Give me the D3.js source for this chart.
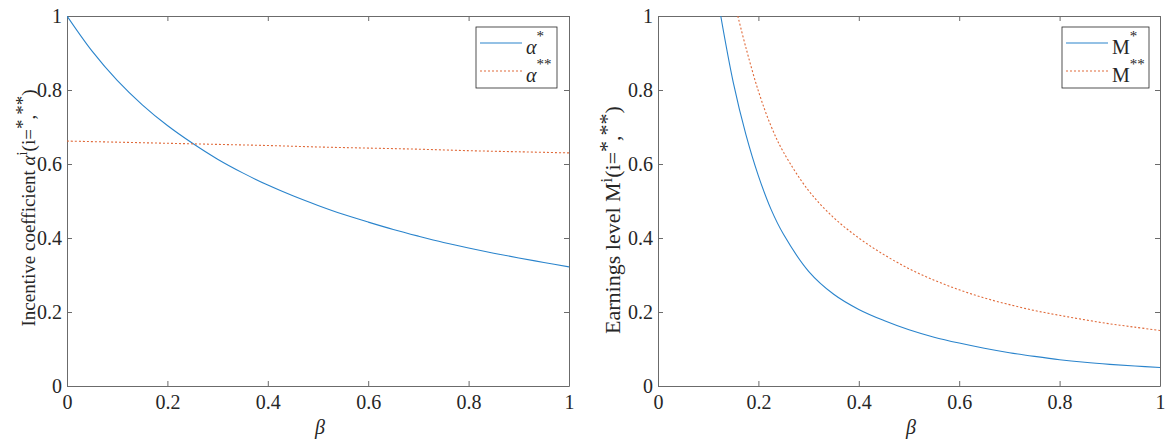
<!DOCTYPE html>
<html>
<head>
<meta charset="utf-8">
<script src="https://cdn.jsdelivr.net/npm/d3@7"></script>
<style>
  body { margin: 0; background: #fff; }
  svg { display: block; font-family: "Liberation Serif", "Times New Roman", serif; }
</style>
</head>
<body>
<div id="chart"></div>
<script>
// beta grid and values
const betaA = [0, 0.05, 0.1, 0.15, 0.2, 0.25, 0.3, 0.35, 0.4, 0.45, 0.5,
  0.55, 0.6, 0.65, 0.7, 0.75, 0.8, 0.85, 0.9, 0.95, 1];
const alphaStar = [1.000, 0.905, 0.826, 0.760, 0.704, 0.656, 0.613, 0.576, 0.543, 0.514, 0.488,
  0.464, 0.443, 0.423, 0.405, 0.388, 0.373, 0.359, 0.346, 0.334, 0.322];
const betaA2 = [0, 0.1, 0.2, 0.3, 0.4, 0.5, 0.6, 0.7, 0.8, 0.9, 1];
const alphaStar2 = [0.662, 0.659, 0.656, 0.653, 0.650, 0.646, 0.643, 0.640, 0.636, 0.633, 0.630];

const betaM = [0.125, 0.15, 0.175, 0.2, 0.225, 0.25, 0.3, 0.35, 0.4, 0.45, 0.5,
  0.55, 0.6, 0.65, 0.7, 0.75, 0.8, 0.85, 0.9, 0.95, 1];
const mStar = [1.000, 0.820, 0.680, 0.568, 0.478, 0.410, 0.310, 0.248, 0.207, 0.177, 0.152,
  0.132, 0.116, 0.102, 0.090, 0.080, 0.071, 0.064, 0.0585, 0.054, 0.050];
const betaM2 = [0.159, 0.175, 0.2, 0.225, 0.25, 0.3, 0.35, 0.4, 0.45, 0.5,
  0.55, 0.6, 0.65, 0.7, 0.75, 0.8, 0.85, 0.9, 0.95, 1];
const mStar2 = [1.000, 0.915, 0.797, 0.703, 0.632, 0.528, 0.455, 0.400, 0.355, 0.317,
  0.286, 0.260, 0.238, 0.220, 0.204, 0.191, 0.179, 0.168, 0.159, 0.150];

const ticks = [0, 0.2, 0.4, 0.6, 0.8, 1];
const blue = "#2a84cc";
const orange = "#e06a3a";
const axisColour = "#6b6b6b";
const serif = "'Liberation Serif', 'Times New Roman', serif";

const svg = d3.select("#chart")
  .append("svg")
  .attr("width", 1170)
  .attr("height", 442);

function panel(opts) {
  const x = d3.scaleLinear().domain([0, 1]).range([opts.left, opts.right]);
  const y = d3.scaleLinear().domain([0, 1]).range([386, 16]);
  const g = svg.append("g");

  const clipId = "clip" + opts.id;
  svg.append("clipPath").attr("id", clipId)
    .append("rect")
    .attr("x", opts.left).attr("y", 16)
    .attr("width", opts.right - opts.left).attr("height", 370);

  const fmt = d => (d === 0 || d === 1) ? String(d) : d.toFixed(1);

  g.append("g").attr("transform", "translate(0,386)")
    .call(d3.axisBottom(x).tickValues(ticks).tickFormat(fmt).tickSize(-5).tickSizeOuter(0).tickPadding(9));
  g.append("g").attr("transform", "translate(0,16)")
    .call(d3.axisTop(x).tickValues(ticks).tickFormat("").tickSize(-5).tickSizeOuter(0));
  g.append("g").attr("transform", `translate(${opts.left},0)`)
    .call(d3.axisLeft(y).tickValues(ticks).tickFormat(fmt).tickSize(-5).tickSizeOuter(0).tickPadding(5));
  g.append("g").attr("transform", `translate(${opts.right},0)`)
    .call(d3.axisRight(y).tickValues(ticks).tickFormat("").tickSize(-5).tickSizeOuter(0));
  g.selectAll(".domain, .tick line").attr("stroke", axisColour);
  g.selectAll(".tick text")
    .attr("font-family", serif)
    .attr("font-size", 20)
    .attr("fill", "#262626");

  const line = d3.line()
    .x(d => x(d[0]))
    .y(d => y(d[1]))
    .curve(d3.curveCatmullRom.alpha(0.5));

  opts.series.forEach(s => {
    g.append("path")
      .datum(d3.zip(s.xs, s.ys))
      .attr("clip-path", `url(#${clipId})`)
      .attr("fill", "none")
      .attr("stroke", s.colour)
      .attr("stroke-width", 1.1)
      .attr("stroke-dasharray", s.dash || null)
      .attr("d", line);
  });

  // x label
  g.append("text")
    .attr("x", (opts.left + opts.right) / 2 + 2)
    .attr("y", 434)
    .attr("text-anchor", "middle")
    .attr("font-family", serif)
    .attr("font-size", 20)
    .attr("font-style", "italic")
    .attr("fill", "#262626")
    .text("β");

  // y label
  const yl = g.append("text")
    .attr("transform", `translate(${opts.labelX},${opts.labelY}) rotate(-90)`)
    .attr("text-anchor", "middle")
    .attr("font-family", serif)
    .attr("font-size", opts.labelSize)
    .attr("fill", "#262626");
  yl.append("tspan").text(opts.labelText);
  yl.append("tspan").attr("font-style", opts.symbolItalic ? "italic" : null).text(opts.symbol);
  yl.append("tspan").attr("dy", -8).attr("font-size", opts.labelSize * 0.75).text("i");
  yl.append("tspan").attr("dy", 8).text("(i=");
  yl.append("tspan").attr("dy", -6).text("*");
  yl.append("tspan").attr("dy", 6).text(",");
  yl.append("tspan").attr("dy", -6).text("**");
  yl.append("tspan").attr("dy", 6).text(")");

  // legend
  const lg = g.append("g");
  lg.append("rect")
    .attr("x", opts.legX).attr("y", 27)
    .attr("width", opts.legW).attr("height", 61)
    .attr("fill", "#fff").attr("stroke", "#262626").attr("stroke-width", 0.8);
  opts.series.forEach((s, i) => {
    const ly = 43 + i * 28;
    lg.append("line")
      .attr("x1", opts.legX + 4).attr("x2", opts.legX + 46)
      .attr("y1", ly).attr("y2", ly)
      .attr("stroke", s.colour).attr("stroke-width", 1.1)
      .attr("stroke-dasharray", s.dash || null);
    const t = lg.append("text")
      .attr("x", opts.legX + 50).attr("y", ly + 11)
      .attr("font-family", serif)
      .attr("font-size", 20).attr("fill", "#262626");
    t.append("tspan").attr("font-style", opts.symbolItalic ? "italic" : null).text(opts.symbol);
    t.append("tspan").attr("dy", -13).attr("font-size", 15).text(i === 0 ? "*" : "**");
  });
}

panel({
  id: "a", left: 67, right: 569,
  labelX: 35, labelY: 208, labelSize: 19,
  labelText: "Incentive coefficient ", symbol: "α", symbolItalic: true,
  legX: 476, legW: 81,
  series: [
    { xs: betaA, ys: alphaStar, colour: blue },
    { xs: betaA2, ys: alphaStar2, colour: orange, dash: "2,2" }
  ]
});

panel({
  id: "m", left: 658, right: 1160,
  labelX: 620, labelY: 220, labelSize: 22,
  labelText: "Earnings level ", symbol: "M", symbolItalic: false,
  legX: 1062, legW: 87,
  series: [
    { xs: betaM, ys: mStar, colour: blue },
    { xs: betaM2, ys: mStar2, colour: orange, dash: "2,2" }
  ]
});
</script>
</body>
</html>
